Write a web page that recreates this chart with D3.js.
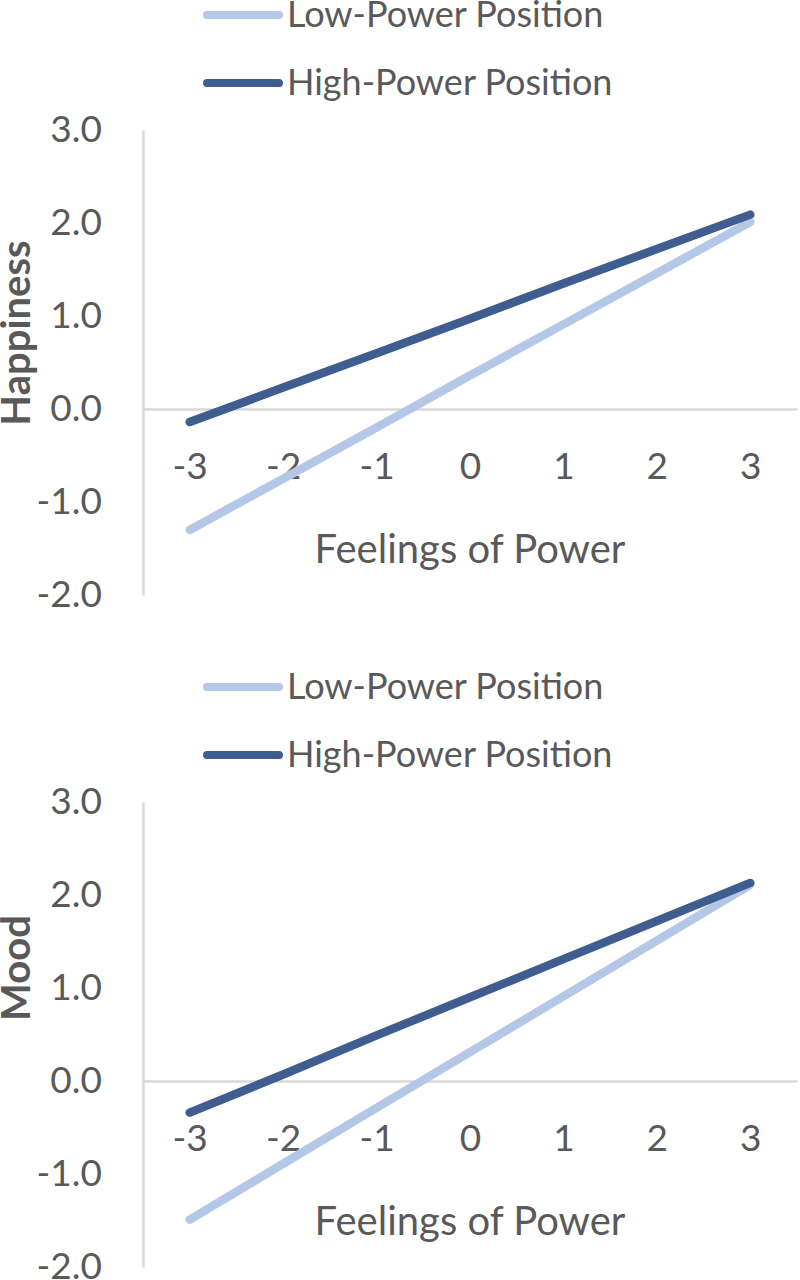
<!DOCTYPE html>
<html>
<head>
<meta charset="utf-8">
<script src="https://cdn.jsdelivr.net/npm/d3@7"></script>
<style>
  body { margin: 0; background: #fff; }
  text { font-family: Lato, "Open Sans", sans-serif; fill: #595959; }
</style>
</head>
<body>
<svg id="chart" width="800" height="1280"></svg>
<script>
// data
const powerLevels = [-3, -2, -1, 0, 1, 2, 3];
const yTicks = [-2, -1, 0, 1, 2, 3];
const seriesNames = ["Low-Power Position", "High-Power Position"];

const happinessLow = [-1.30, -0.75, -0.20, 0.36, 0.91, 1.46, 2.01];
const happinessHigh = [-0.14, 0.23, 0.60, 0.97, 1.35, 1.72, 2.09];

const moodLow = [-1.49, -0.89, -0.29, 0.31, 0.91, 1.51, 2.11];
const moodHigh = [-0.34, 0.07, 0.49, 0.90, 1.31, 1.72, 2.13];

const colors = ["#b4c7e7", "#3f5e8f"];

const svg = d3.select("#chart");

// plain hyphen for negatives, like the original
const fmt = d => d3.format(".1f")(d).replace("\u2212", "-");

function drawChart(top, title, titleY, low, high) {
    const g = svg.append("g").attr("transform", `translate(0,${top})`);

    const x = d3.scalePoint()
        .domain(powerLevels)
        .range([143, 797])
        .padding(0.5);

    const y = d3.scaleLinear()
        .domain([-2, 3])
        .range([595, 130]);

    // legend
    seriesNames.forEach((name, i) => {
        const ly = 15 + i * 68;
        g.append("line")
            .attr("x1", 207).attr("x2", 279)
            .attr("y1", ly).attr("y2", ly)
            .attr("stroke", colors[i])
            .attr("stroke-width", 8)
            .attr("stroke-linecap", "round");
        g.append("text")
            .attr("x", 287)
            .attr("y", ly + 12)
            .style("font-size", "36px")
            .text(name);
    });

    // y axis
    const yAxis = g.append("g")
        .attr("transform", "translate(143,0)")
        .call(d3.axisLeft(y).tickValues(yTicks).tickSize(0).tickPadding(41)
            .tickFormat(fmt));
    yAxis.select(".domain").attr("stroke", "#d9d9d9").attr("stroke-width", 2.5);
    yAxis.selectAll("text")
        .style("font-size", "37px")
        .style("font-family", "Lato, 'Open Sans', sans-serif")
        .attr("fill", "#595959");

    // x axis sits on zero
    const xAxis = g.append("g")
        .attr("transform", `translate(0,${y(0)})`)
        .call(d3.axisBottom(x).tickSize(0).tickSizeOuter(0));
    xAxis.select(".domain").attr("stroke", "#d9d9d9").attr("stroke-width", 2.5);
    xAxis.selectAll("text")
        .attr("y", 70)
        .attr("dy", null)
        .style("font-size", "37px")
        .style("font-family", "Lato, 'Open Sans', sans-serif")
        .attr("fill", "#595959");

    g.append("text")
        .attr("x", (143 + 797) / 2)
        .attr("y", y(0) + 154)
        .attr("text-anchor", "middle")
        .style("font-size", "40px")
        .text("Feelings of Power");

    g.append("text")
        .attr("transform", `translate(30,${titleY}) rotate(-90)`)
        .attr("text-anchor", "middle")
        .style("font-size", "40px")
        .style("font-weight", "bold")
        .text(title);

    // lines
    const line = d3.line()
        .x((d, i) => x(powerLevels[i]))
        .y(d => y(d));

    [low, high].forEach((vals, i) => {
        g.append("path")
            .datum(vals)
            .attr("d", line)
            .attr("fill", "none")
            .attr("stroke", colors[i])
            .attr("stroke-width", 8.5)
            .attr("stroke-linecap", "round")
            .attr("stroke-linejoin", "round");
    });
}

drawChart(0, "Happiness", 333, happinessLow, happinessHigh);
drawChart(672, "Mood", 968 - 672, moodLow, moodHigh);
</script>
</body>
</html>
